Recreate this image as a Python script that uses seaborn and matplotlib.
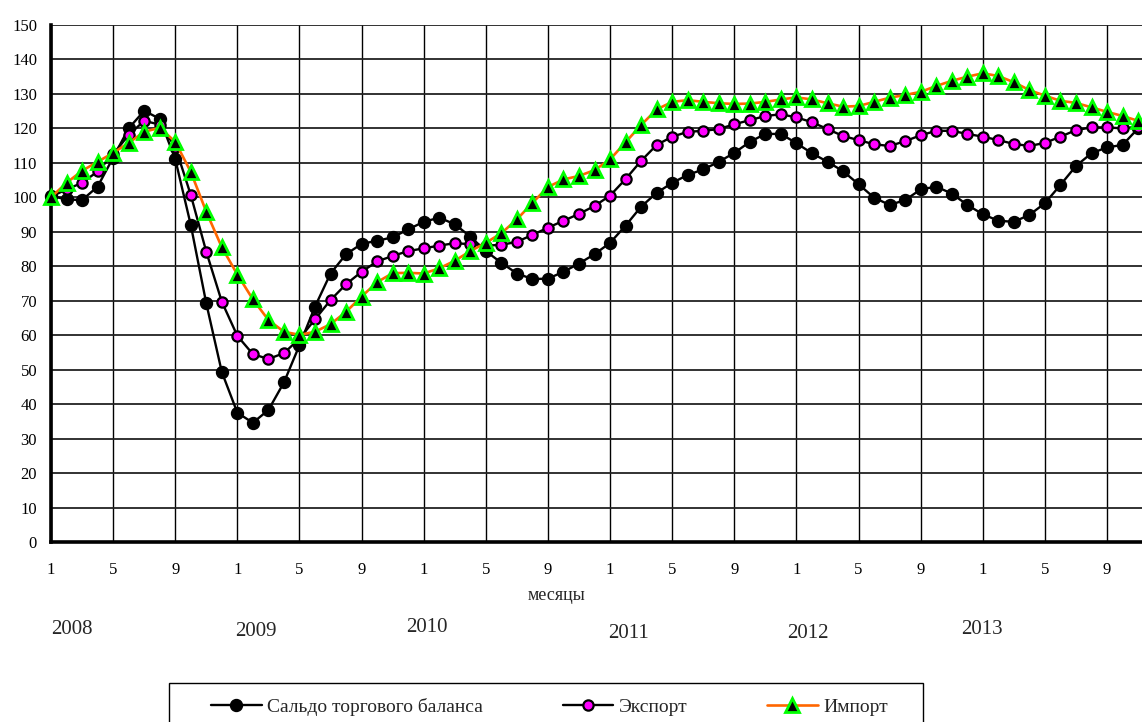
import numpy as np
import pandas as pd
import matplotlib
matplotlib.use("Agg")
import matplotlib.pyplot as plt
from matplotlib.patches import Rectangle
import seaborn as sns

# ---- data (indices, Jan 2008 = 100) ----
saldo = [100.4, 99.4, 99.2, 103.1, 111.5, 120.0, 125.1, 122.8, 111.1, 92.0,
         69.2, 49.3, 37.5, 34.6, 38.3, 46.3, 57.1, 68.3, 77.9, 83.5,
         86.5, 87.4, 88.4, 90.7, 92.9, 94.1, 92.2, 88.6, 84.4, 81.0,
         77.9, 76.3, 76.4, 78.4, 80.8, 83.5, 86.8, 91.8, 97.3, 101.3,
         104.2, 106.5, 108.1, 110.3, 112.9, 116.1, 118.4, 118.4, 115.7, 112.8,
         110.3, 107.6, 103.8, 99.9, 97.8, 99.2, 102.3, 103.1, 101.1, 97.8,
         95.1, 93.2, 92.9, 94.9, 98.3, 103.6, 109.1, 112.8, 114.5, 115.2,
         120.0]
export = [100.2, 102.3, 104.2, 107.5, 112.5, 118.1, 122.2, 121.1, 114.7, 100.7,
          84.2, 69.7, 59.8, 54.5, 53.1, 54.8, 59.0, 64.6, 70.2, 74.8,
          78.4, 81.4, 83.0, 84.4, 85.2, 86.0, 86.7, 86.4, 86.0, 86.2,
          87.1, 89.1, 91.2, 93.2, 95.2, 97.5, 100.5, 105.3, 110.6, 115.2,
          117.6, 119.0, 119.3, 119.8, 121.2, 122.4, 123.6, 124.1, 123.2, 121.8,
          119.8, 117.8, 116.6, 115.4, 114.9, 116.3, 118.0, 119.3, 119.3, 118.4,
          117.6, 116.6, 115.5, 114.9, 115.8, 117.6, 119.5, 120.3, 120.3, 120.0,
          120.5]
imports = [100.0, 104.2, 107.7, 110.3, 112.9, 115.8, 119.0, 120.2, 116.1, 107.4,
           95.8, 85.5, 77.6, 70.4, 64.4, 61.0, 60.1, 61.0, 63.2, 66.8,
           71.2, 75.4, 78.0, 78.1, 77.9, 79.4, 81.6, 84.4, 86.8, 89.6,
           93.6, 98.4, 103.0, 105.2, 106.2, 107.9, 111.0, 116.0, 121.0, 125.5,
           127.7, 128.2, 127.7, 127.3, 127.1, 127.2, 127.7, 128.4, 129.0, 128.4,
           127.3, 126.3, 126.5, 127.7, 128.9, 129.7, 130.6, 132.3, 133.8, 135.0,
           136.0, 135.2, 133.4, 131.1, 129.5, 128.0, 127.4, 126.1, 124.8, 123.6,
           122.2]

series_names = ["Сальдо торгового баланса", "Экспорт", "Импорт"]
month_tick_labels = ["1", "5", "9"] * 6
year_labels = ["2008", "2009", "2010", "2011", "2012", "2013"]
x_title = "месяцы"
y_ticks = list(range(0, 151, 10))

# ---- layout ----
W, H = 1142, 722
sns.set_theme(style="white")
plt.rcParams['font.family'] = ['Liberation Serif', 'DejaVu Serif']

fig = plt.figure(figsize=(W / 100, H / 100), dpi=100)
ax = fig.add_axes([51 / W, (H - 542) / H, (W - 51) / W, (542 - 25) / H])

months = np.arange(len(saldo))
df = pd.DataFrame({"m": months, "saldo": saldo, "export": export, "imports": imports})

sns.lineplot(data=df, x="m", y="saldo", ax=ax, color="black", linewidth=1.7,
             marker="o", markersize=8.6, markerfacecolor="black",
             markeredgecolor="black", markeredgewidth=1.0,
             label=series_names[0], zorder=3, clip_on=False)
sns.lineplot(data=df, x="m", y="export", ax=ax, color="black", linewidth=1.7,
             marker="o", markersize=7.4, markerfacecolor="#FF00FF",
             markeredgecolor="black", markeredgewidth=1.6,
             label=series_names[1], zorder=4, clip_on=False)
sns.lineplot(data=df, x="m", y="imports", ax=ax, color="#FF6600", linewidth=1.9,
             marker="^", markersize=9.6, markerfacecolor="black",
             markeredgecolor="#00FF00", markeredgewidth=2.0,
             label=series_names[2], zorder=5, clip_on=False)

ax.set_xlim(0, (W - 51) / 15.53)
ax.set_ylim(0, 150)
ax.set_yticks(y_ticks)
ax.set_yticklabels([str(v) for v in y_ticks])
ax.set_xticks(np.arange(0, 69, 4))
ax.set_xticklabels(month_tick_labels)
ax.set_xlabel("")
ax.set_ylabel("")

ax.grid(True, axis="y", color="#222222", linewidth=1.3)
ax.grid(True, axis="x", color="black", linewidth=1.0)
ax.set_axisbelow(True)

for s in ["top", "right"]:
    ax.spines[s].set_visible(False)
for s in ["left", "bottom"]:
    ax.spines[s].set_color("black")
    ax.spines[s].set_linewidth(2.6)
    ax.spines[s].set_zorder(2.5)

ax.tick_params(axis="both", direction="inout", length=8, width=2, colors="black",
               labelsize=12)
ax.tick_params(axis="y", pad=6)
ax.tick_params(axis="x", pad=10.5)

fig.text(557 / W, 1 - 595 / H, x_title, ha="center", va="center", fontsize=13)

year_pos = [(51, 630), (235, 631), (406, 627.5), (608, 633), (787, 633), (961, 630)]
for lab, (px, py) in zip(year_labels, year_pos):
    fig.text(px / W, 1 - py / H, lab, ha="left", va="center", fontsize=15)

# legend frame (bottom runs off the figure, as in the reference)
fig.patches.append(Rectangle((169 / W, -0.02), (923 - 169) / W, (722 - 683) / H + 0.02,
                             transform=fig.transFigure, facecolor="white",
                             edgecolor="black", linewidth=1.0, zorder=1))

handles, labels = ax.get_legend_handles_labels()
if ax.get_legend() is not None:
    ax.get_legend().remove()
leg = fig.legend(handles, labels, loc="center left",
                 bbox_to_anchor=(211 / W, 1 - 707 / H),
                 ncol=3, frameon=False, fontsize=14, handlelength=2.6,
                 handletextpad=0.28, columnspacing=4.1, borderpad=0,
                 borderaxespad=0)
leg.set_zorder(3)

fig.savefig("out.png", dpi=100)
